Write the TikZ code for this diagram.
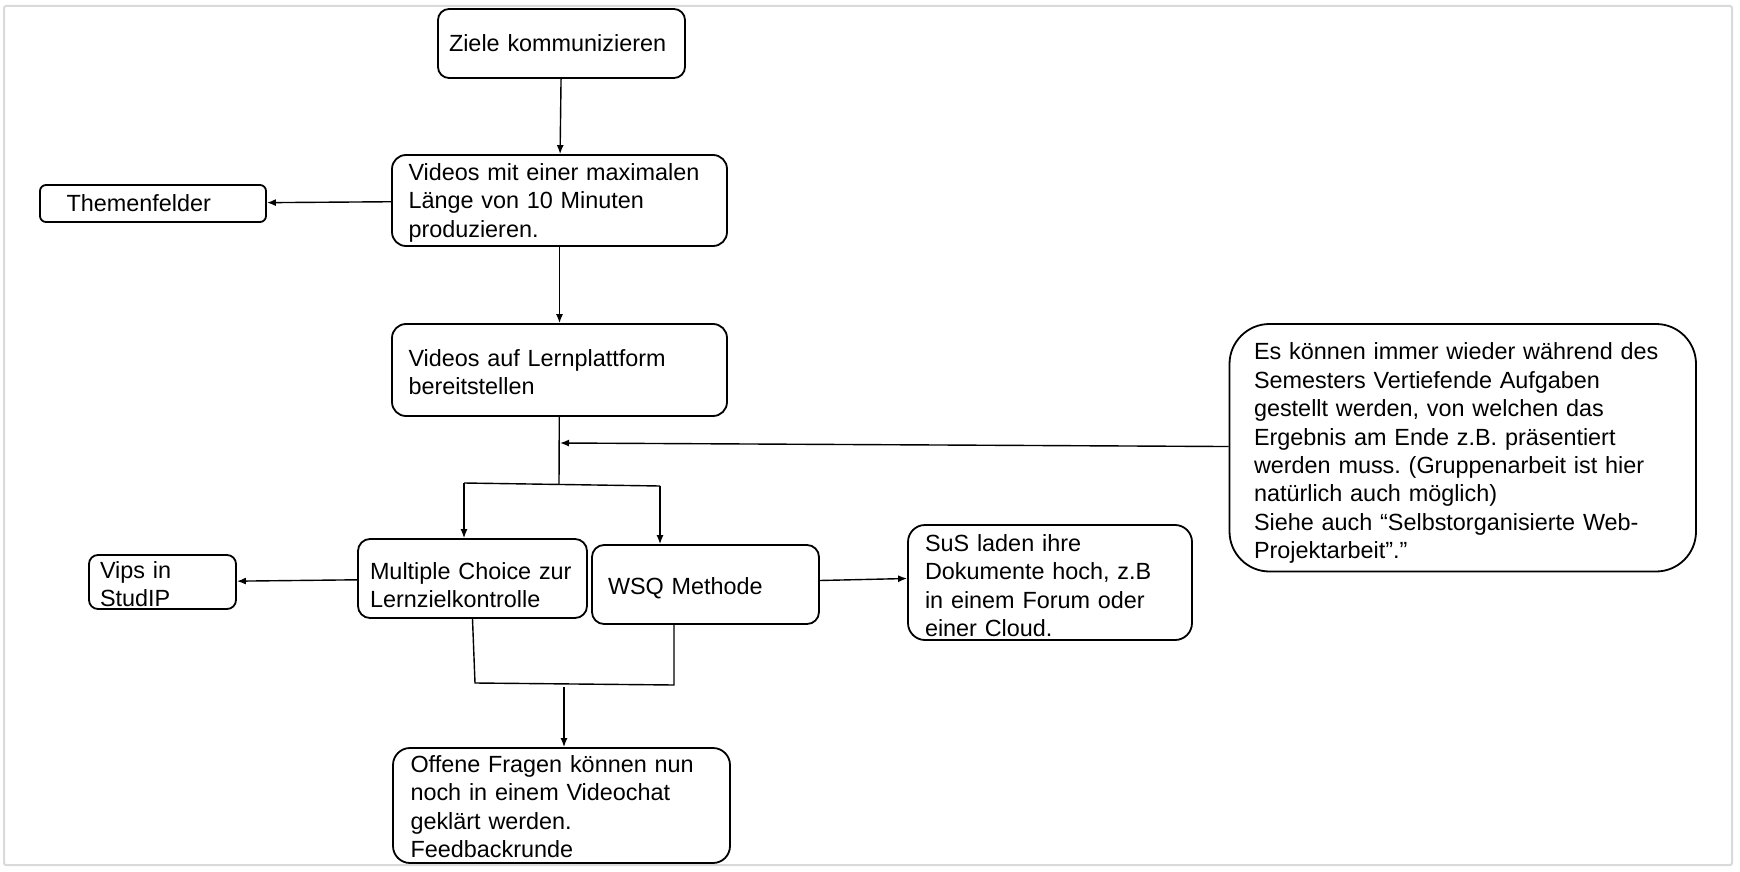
\documentclass[tikz,border=0pt]{standalone}
\usepackage{fontspec}
\setmainfont{Liberation Sans}
\usepackage{tikz}
\usetikzlibrary{positioning,arrows.meta}
\definecolor{framegray}{HTML}{DADADA}
\tikzset{
  flowarrow/.style={-{Latex[length=9pt,width=7pt]}, line width=1.4pt},
  flowline/.style={line width=1.4pt},
  stepbox/.style={draw, line width=1.8pt, align=left, inner xsep=0pt, inner ysep=0pt,
    font=\fontsize{23.4pt}{28.4pt}\selectfont},
  framebox/.style={draw=framegray, line width=2pt, rounded corners=2pt}
}
\frenchspacing

\begin{document}
\begin{tikzpicture}[x=1pt, y=-1pt, >=Latex]
  \useasboundingbox (0,0) rectangle (1740,872);
  \draw[framebox] (4,6) rectangle (1732,865);

  \node[stepbox, rounded corners=11pt, minimum width=247pt, minimum height=69pt, text width=225pt] (ziele) at (561.5,43.5) {Ziele kommunizieren};
  \node[stepbox, rounded corners=14pt, minimum width=335pt, minimum height=91pt, text width=302pt, text height=21.5pt] (videos) at (559.5,200.5) {Videos mit einer maximalen\\ Länge von 10 Minuten\\ produzieren.};
  \node[stepbox, rounded corners=6pt, minimum width=226pt, minimum height=37pt, text width=173pt] (themen) at (153,203.5) {Themenfelder};
  \node[stepbox, rounded corners=14pt, minimum width=335pt, minimum height=92pt, text width=302pt, text height=21.3pt] (platt) at (559.5,370) {Videos auf Lernplattform\\ bereitstellen};
  \node[stepbox, rounded corners=12pt, minimum width=229pt, minimum height=79pt, text width=205pt, text height=30pt] (mc) at (472.5,578.5) {Multiple Choice zur\\ Lernzielkontrolle};
  \node[stepbox, rounded corners=12pt, minimum width=227pt, minimum height=79pt, text width=195pt, text height=23.5pt] (wsq) at (705.5,584.5) {WSQ Methode};
  \node[stepbox, rounded corners=9pt, minimum width=147pt, minimum height=54pt, text width=125pt, text height=21.5pt] (vips) at (162.5,582) {Vips in\\ StudIP};
  \node[stepbox, rounded corners=17pt, minimum width=284pt, minimum height=115pt, text width=250pt, text height=23.5pt] (sus) at (1050,582.5) {SuS laden ihre\\ Dokumente hoch, z.B\\ in einem Forum oder\\ einer Cloud.};
  \node[stepbox, rounded corners=40pt, minimum width=466.5pt, minimum height=247.5pt, text width=417.5pt, text height=28pt] (aufgaben) at (1462.75,447.75) {Es können immer wieder während des\\ Semesters Vertiefende Aufgaben\\ gestellt werden, von welchen das\\ Ergebnis am Ende z.B. präsentiert\\ werden muss. (Gruppenarbeit ist hier\\ natürlich auch möglich)\\ Siehe auch “Selbstorganisierte Web-\\ Projektarbeit”.”};
  \node[stepbox, rounded corners=17pt, minimum width=337pt, minimum height=115pt, text width=302pt, text height=19.3pt] (offene) at (561.5,805.5) {Offene Fragen können nun\\ noch in einem Videochat\\ geklärt werden.\\ Feedbackrunde};

  % verzweigung und zusammenfuehrung
  \coordinate (fork) at (559,484.5);
  \coordinate (forkL) at (464,483);
  \coordinate (forkR) at (660,486);
  \coordinate (merge) at (560,443);
  \coordinate (joinL) at (475,683);
  \coordinate (joinR) at (674,685);
  \coordinate (joinM) at (564,687);

  \draw[flowarrow] (ziele) -- (videos);
  \draw[flowarrow] (videos) -- (themen);
  \draw[flowarrow] (videos) -- (platt);
  \draw[flowline] (platt) -- (fork);
  \draw[flowarrow] (aufgaben) -- (merge);
  \draw[flowline] (forkL) -- (forkR);
  \draw[flowarrow] (forkL) -- (forkL |- mc.north);
  \draw[flowarrow] (forkR) -- (forkR |- wsq.north);
  \draw[flowarrow] (mc) -- (vips);
  \draw[flowarrow] ([yshift=4pt]wsq.east) -- ([yshift=4pt]sus.west);
  \draw[flowline] (mc.south) -- (joinL) -- (joinR) -- (joinR |- wsq.south);
  \draw[flowarrow] (joinM) -- (joinM |- offene.north);
\end{tikzpicture}
\end{document}
